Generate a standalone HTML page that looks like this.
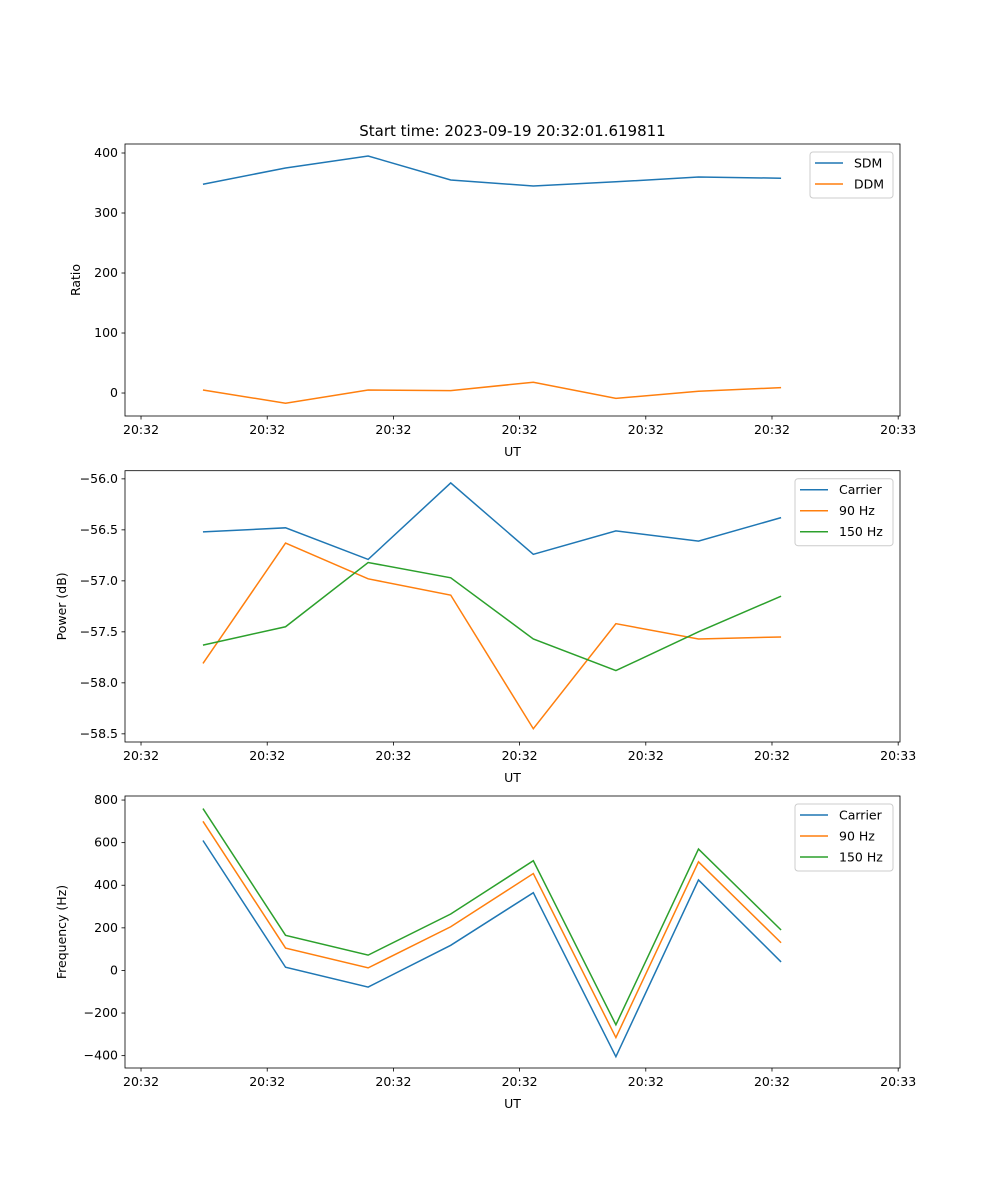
<!DOCTYPE html>
<html><head><meta charset="utf-8"><style>
body{margin:0;background:#fff}
svg{display:block;font-family:"DejaVu Sans","Liberation Sans",sans-serif}
</style></head><body>
<svg id="fig" width="1000" height="1200" viewBox="0 0 1000 1200"></svg>
<script>
const xIdx=[0,1,2,3,4,5,6,7];
const xTickVals=[-0.75,0.778,2.306,3.834,5.362,6.89,8.418];
const xTickLabels=["20:32","20:32","20:32","20:32","20:32","20:32","20:33"];
const sdm=[348,375,395,355,345,352,360,358];
const ddm=[5,-17,5,4,18,-9,3,9];
const pwrCarrier=[-56.52,-56.48,-56.79,-56.04,-56.74,-56.51,-56.61,-56.38];
const pwr90=[-57.81,-56.63,-56.98,-57.14,-58.45,-57.42,-57.57,-57.55];
const pwr150=[-57.63,-57.45,-56.82,-56.97,-57.57,-57.88,-57.5,-57.15];
const frqCarrier=[610,15,-78,118,365,-405,425,40];
const frq90=[700,105,12,205,455,-315,510,130];
const frq150=[760,165,72,265,515,-255,570,190];
const ticks1=[0,100,200,300,400];
const ticks2=[-58.5,-58.0,-57.5,-57.0,-56.5,-56.0];
const ticks3=[-400,-200,0,200,400,600,800];

const NS="http://www.w3.org/2000/svg";
const svg=document.getElementById('fig');
function mk(tag,attrs,parent){const e=document.createElementNS(NS,tag);for(const k in attrs)e.setAttribute(k,attrs[k]);(parent||svg).appendChild(e);return e;}
const L=125,R=900,xmin=-0.944,xmax=8.44;
const sx=v=>L+(v-xmin)/(xmax-xmin)*(R-L);
const C=['#1f77b4','#ff7f0e','#2ca02c'];

function panel(name,top,bot,ymin,ymax,yt,ytFmt,ylabel,series,names,legX,legW){
  const g=mk('g',{});
  
  
  const sy=v=>bot-(v-ymin)/(ymax-ymin)*(bot-top);
  const clip=mk('clipPath',{id:'c'+name},g);mk('rect',{x:L,y:top,width:R-L,height:bot-top},clip);
  series.forEach((s,si)=>{
    const p=mk('polyline',{points:s.map((v,i)=>sx(xIdx[i])+','+sy(v)).join(' '),fill:'none',stroke:C[si],'stroke-width':1.5,'clip-path':'url(#c'+name+')'},g);
    
    
  });
  const fr=mk('rect',{x:L,y:top,width:R-L,height:bot-top,fill:'none',stroke:'#000','stroke-width':0.8},g);
  
  
  yt.forEach(v=>{const y=sy(v);mk('line',{x1:L-3.5,x2:L,y1:y,y2:y,stroke:'#000','stroke-width':0.8},g);
    const t=mk('text',{x:L-7,y:y+4,'text-anchor':'end','font-size':12.5},g);t.textContent=ytFmt(v).replace('-','\u2212');
    });
  xTickVals.forEach((v,i)=>{const x=sx(v);mk('line',{x1:x,x2:x,y1:bot,y2:bot+3.5,stroke:'#000','stroke-width':0.8},g);
    const t=mk('text',{x:x,y:bot+18,'text-anchor':'middle','font-size':12.5},g);t.textContent=xTickLabels[i];
    });
  const xl=mk('text',{x:(L+R)/2,y:bot+40,'text-anchor':'middle','font-size':12.5},g);xl.textContent='UT';
  
  const cy=(top+bot)/2;
  const yl=mk('text',{x:0,y:0,'text-anchor':'middle','font-size':12.5,transform:`translate(${ytFmt===f1?66:80 - (name==='frequency-panel'?14:0)},${cy}) rotate(-90)`},g);
  yl.textContent=ylabel;
  const lh=names.length*21+4;
  const lg=mk('g',{},g);
  
  
  mk('rect',{x:legX,y:top+8,width:legW,height:lh,rx:3,fill:'#fff','fill-opacity':0.8,stroke:'#ccc','stroke-width':1},lg);
  names.forEach((n,i)=>{const y=top+19+i*21;
    mk('line',{x1:legX+5,x2:legX+33,y1:y,y2:y,stroke:C[i],'stroke-width':1.5},lg);
    const t=mk('text',{x:legX+44,y:y+4.5,'font-size':12.5},lg);t.textContent=n;
    });
}
const f0=v=>String(v), f1=v=>v.toFixed(1);
const title=mk('text',{x:512.5,y:136,'text-anchor':'middle','font-size':15});
title.textContent='Start time: 2023-09-19 20:32:01.619811';


panel('ratio-panel',144,416,-38.3,415,ticks1,f0,'Ratio',[sdm,ddm],['SDM','DDM'],810,83);
panel('power-panel',470.7,742,-58.58,-55.92,ticks2,f1,'Power (dB)',[pwrCarrier,pwr90,pwr150],['Carrier','90 Hz','150 Hz'],795,98);
panel('frequency-panel',796,1068,-458,819,ticks3,f0,'Frequency (Hz)',[frqCarrier,frq90,frq150],['Carrier','90 Hz','150 Hz'],795,98);
</script>
</body></html>
